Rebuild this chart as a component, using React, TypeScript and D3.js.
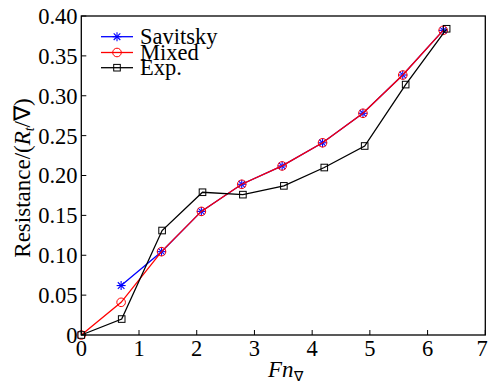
import React from "react";
import * as d3 from "d3";

const savX = [0.69, 1.39, 2.08, 2.78, 3.48, 4.18, 4.88, 5.57, 6.27];
const savY = [0.062, 0.1045, 0.155, 0.189, 0.212, 0.241, 0.278, 0.326, 0.382];
const mixX = [0, 0.69, 1.39, 2.08, 2.78, 3.48, 4.18, 4.88, 5.57, 6.27];
const mixY = [0, 0.041, 0.1045, 0.155, 0.189, 0.212, 0.241, 0.278, 0.326, 0.382];
const expX = [0, 0.70, 1.40, 2.10, 2.80, 3.51, 4.21, 4.91, 5.62, 6.33];
const expY = [0, 0.020, 0.131, 0.179, 0.176, 0.187, 0.210, 0.237, 0.314, 0.384];
const xTicks = [0, 1, 2, 3, 4, 5, 6, 7];
const yTicks = [0, 0.05, 0.1, 0.15, 0.2, 0.25, 0.3, 0.35, 0.4];
const legendNames = ["Savitsky", "Mixed", "Exp."];

const W = 489, H = 385;
const L = 81.3, R = 485.3, T = 16, B = 335;
const FONT = "Liberation Serif";
// text is laid out at 30px and scaled down so the serif face is chosen
const BASE = 30;

function Txt(props: { x: number; y: number; size: number; anchor?: string; rotate?: number; dy?: string; children: any }) {
  const k = props.size / BASE;
  const rot = props.rotate ? ` rotate(${props.rotate})` : "";
  return (
    <g transform={`translate(${props.x},${props.y})${rot} scale(${k})`}>
      <text x={0} y={0} dy={props.dy} fontSize={BASE} textAnchor={props.anchor || "start"} style={{ fontFamily: FONT }}>
        {props.children}
      </text>
    </g>
  );
}

export default function App() {
  const x = d3.scaleLinear().domain([0, 7]).range([L, R]);
  const y = d3.scaleLinear().domain([0, 0.4]).range([B, T]);
  const line = d3.line<[number, number]>().x(d => x(d[0])).y(d => y(d[1]));
  const sav = savX.map((v, i) => [v, savY[i]] as [number, number]);
  const mix = mixX.map((v, i) => [v, mixY[i]] as [number, number]);
  const exp = expX.map((v, i) => [v, expY[i]] as [number, number]);

  const star = (cx: number, cy: number, key: any) => {
    const s = 4.5, d = 3.3;
    return (
      <g key={key} stroke="#0000ff" strokeWidth={1.1}>
        <line x1={cx - s} y1={cy} x2={cx + s} y2={cy} />
        <line x1={cx} y1={cy - s} x2={cx} y2={cy + s} />
        <line x1={cx - d} y1={cy - d} x2={cx + d} y2={cy + d} />
        <line x1={cx - d} y1={cy + d} x2={cx + d} y2={cy - d} />
      </g>
    );
  };
  const circ = (cx: number, cy: number, key: any) => (
    <circle key={key} cx={cx} cy={cy} r={4.3} fill="none" stroke="#ff0000" strokeWidth={1} />
  );
  const sq = (cx: number, cy: number, key: any) => (
    <rect key={key} x={cx - 3.3} y={cy - 3.3} width={6.6} height={6.6} fill="none" stroke="#000" strokeWidth={1} />
  );

  const legY = [36.7, 52.5, 67.7];
  const legColors = ["#0000ff", "#ff0000", "#000000"];
  const legMarkers = [star, circ, sq];

  return (
    <svg width={W} height={H} style={{ display: "block", position: "absolute", left: 0, top: 0 }}>
      <rect x={0} y={0} width={W} height={H} fill="#fff" />
      {/* series */}
      <path d={line(sav) || ""} fill="none" stroke="#0000ff" strokeWidth={1.3} />
      {sav.map((p, i) => star(x(p[0]), y(p[1]), "s" + i))}
      <path d={line(mix) || ""} fill="none" stroke="#ff0000" strokeWidth={1.3} />
      {mix.map((p, i) => circ(x(p[0]), y(p[1]), "m" + i))}
      <path d={line(exp) || ""} fill="none" stroke="#000" strokeWidth={1.3} />
      {exp.map((p, i) => sq(x(p[0]), y(p[1]), "e" + i))}
      {/* box */}
      <rect x={L} y={T} width={R - L} height={B - T} fill="none" stroke="#000" strokeWidth={1.3} />
      {/* x ticks */}
      {xTicks.map(t => (
        <g key={"xt" + t}>
          <line x1={x(t)} x2={x(t)} y1={B} y2={B - 5} stroke="#000" strokeWidth={1} />
          <Txt x={Math.min(x(t), 482)} y={356} size={22.5} anchor="middle">{String(t)}</Txt>
        </g>
      ))}
      {/* y ticks */}
      {yTicks.map(t => (
        <g key={"yt" + t}>
          <line x1={L} x2={L + 5} y1={y(t)} y2={y(t)} stroke="#000" strokeWidth={1} />
          <Txt x={77.5} y={y(t)} size={22.5} anchor="end" dy="0.35em">{t === 0 ? "0" : t.toFixed(2)}</Txt>
        </g>
      ))}
      {/* axis labels */}
      <Txt x={268} y={377} size={23}>
        <tspan fontStyle="italic">Fn</tspan>
        <tspan fontSize={18} dy={5}>∇</tspan>
      </Txt>
      <Txt x={30} y={178} size={23} anchor="middle" rotate={-90}>
        Resistance/(<tspan fontStyle="italic">R</tspan><tspan fontSize={18} dy={5} fontStyle="italic">t</tspan><tspan dy={-5}>/∇)</tspan>
      </Txt>
      {/* legend */}
      {legendNames.map((n, i) => (
        <g key={"lg" + i}>
          <line x1={101} x2={133} y1={legY[i]} y2={legY[i]} stroke={legColors[i]} strokeWidth={1.3} />
          {legMarkers[i](117, legY[i], "lm" + i)}
          <Txt x={140} y={legY[i]} size={22.5} dy="0.33em">{n}</Txt>
        </g>
      ))}
    </svg>
  );
}
